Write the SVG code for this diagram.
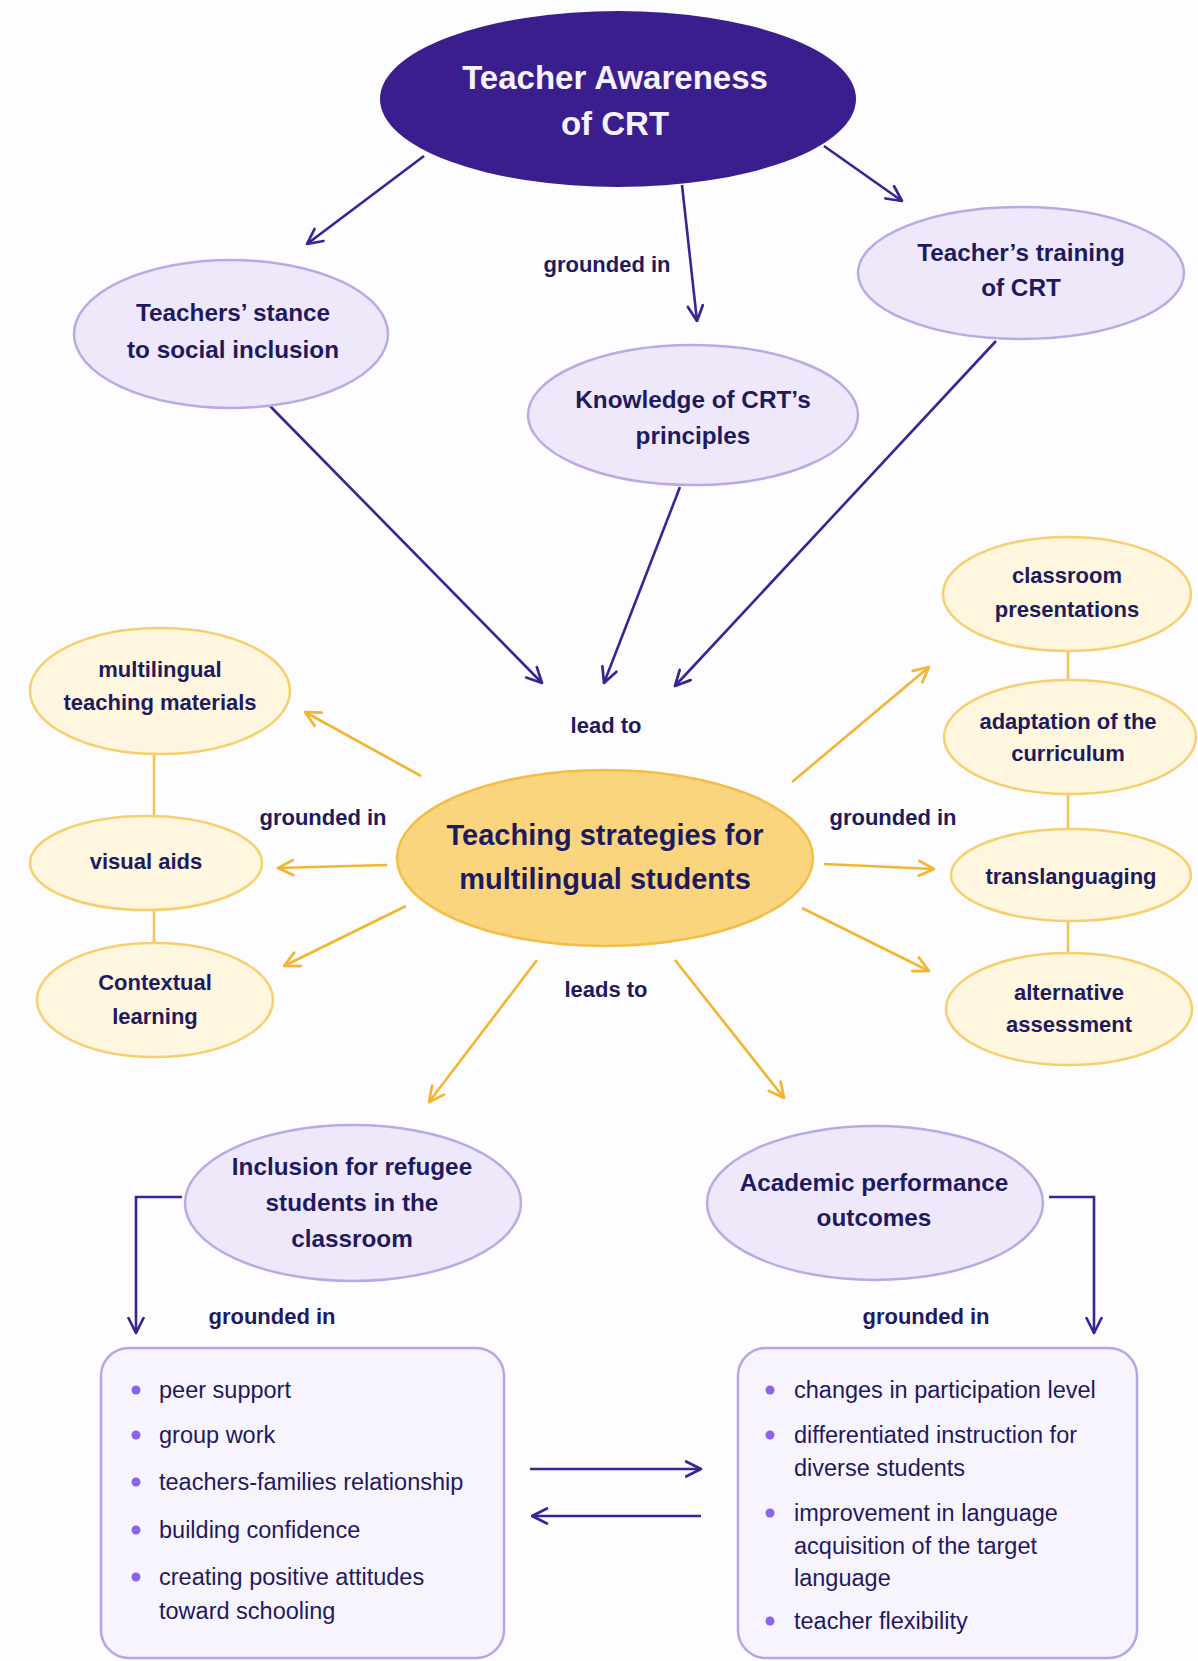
<svg xmlns="http://www.w3.org/2000/svg" width="1198" height="1661" viewBox="0 0 1198 1661">
<defs>
<style>
.bg{fill:#FDFCFE}
.dark{fill:#3B1E8E}
.lav{fill:#EFE7FA;stroke:#BCA9E4;stroke-width:2.5}
.yel{fill:#FEF6DE;stroke:#F6D06E;stroke-width:2.5}
.ctr{fill:#FAD57D;stroke:#F2BF45;stroke-width:2.5}
.box{fill:#F8F4FD;stroke:#B9A5E2;stroke-width:2.5}
.tb{font-family:"Liberation Sans",Arial,sans-serif;font-weight:bold;fill:#1E1A5E;text-anchor:middle}
.tw{font-family:"Liberation Sans",Arial,sans-serif;font-weight:bold;fill:#F6F2FC;text-anchor:middle;font-size:33px}
.np{font-size:24.3px}
.ny{font-size:22px}
.nc{font-size:29px}
.lbl{font-family:"Liberation Sans",Arial,sans-serif;font-weight:bold;fill:#1E1A5E;text-anchor:middle;font-size:22px}
.li{font-family:"Liberation Sans",Arial,sans-serif;fill:#1E1A5E;font-size:23.5px}
.dot{fill:#8A63E8}
.ep{stroke:#3A2492;stroke-width:2.6;fill:none}
.ey{stroke:#F2B530;stroke-width:2.6;fill:none}
.ly{stroke:#F3C453;stroke-width:2.6;fill:none}
</style>
<marker id="ap" viewBox="0 0 12 12" refX="11" refY="6" markerWidth="18" markerHeight="18" markerUnits="userSpaceOnUse" orient="auto">
<path d="M1,1 L11,6 L1,11" fill="none" stroke="#3A2492" stroke-width="1.8" stroke-linecap="round" stroke-linejoin="round"/>
</marker>
<marker id="ay" viewBox="0 0 12 12" refX="11" refY="6" markerWidth="18" markerHeight="18" markerUnits="userSpaceOnUse" orient="auto">
<path d="M1,1 L11,6 L1,11" fill="none" stroke="#F2B530" stroke-width="1.8" stroke-linecap="round" stroke-linejoin="round"/>
</marker>
</defs>
<rect class="bg" x="0" y="0" width="1198" height="1661"/>

<g id="connectors">
<line class="ep" x1="424" y1="156" x2="307" y2="244" marker-end="url(#ap)"/>
<line class="ep" x1="682" y1="185" x2="697" y2="321" marker-end="url(#ap)"/>
<line class="ep" x1="824" y1="146" x2="902" y2="201" marker-end="url(#ap)"/>
<line class="ep" x1="270" y1="406" x2="542" y2="683" marker-end="url(#ap)"/>
<line class="ep" x1="680" y1="487" x2="604" y2="683" marker-end="url(#ap)"/>
<line class="ep" x1="996" y1="341" x2="675" y2="686" marker-end="url(#ap)"/>
<line class="ey" x1="421" y1="776" x2="305" y2="712" marker-end="url(#ay)"/>
<line class="ey" x1="387" y1="865" x2="278" y2="868" marker-end="url(#ay)"/>
<line class="ey" x1="406" y1="906" x2="284" y2="966" marker-end="url(#ay)"/>
<line class="ey" x1="792" y1="782" x2="929" y2="667" marker-end="url(#ay)"/>
<line class="ey" x1="824" y1="864" x2="934" y2="869" marker-end="url(#ay)"/>
<line class="ey" x1="802" y1="908" x2="929" y2="971" marker-end="url(#ay)"/>
<line class="ey" x1="537" y1="960" x2="429" y2="1102" marker-end="url(#ay)"/>
<line class="ey" x1="675" y1="960" x2="784" y2="1098" marker-end="url(#ay)"/>
<line class="ly" x1="154" y1="754" x2="154" y2="816"/>
<line class="ly" x1="154" y1="911" x2="154" y2="942"/>
<line class="ly" x1="1068" y1="650" x2="1068" y2="680"/>
<line class="ly" x1="1068" y1="794" x2="1068" y2="829"/>
<line class="ly" x1="1068" y1="922" x2="1068" y2="953"/>
<polyline class="ep" points="182,1197 136,1197 136,1333" marker-end="url(#ap)"/>
<polyline class="ep" points="1049,1197 1094,1197 1094,1333" marker-end="url(#ap)"/>
<line class="ep" x1="530" y1="1469" x2="701" y2="1469" marker-end="url(#ap)"/>
<line class="ep" x1="701" y1="1516" x2="532" y2="1516" marker-end="url(#ap)"/>
<text class="lbl" x="607" y="272">grounded in</text>
<text class="lbl" x="606" y="733">lead to</text>
<text class="lbl" x="323" y="825">grounded in</text>
<text class="lbl" x="893" y="825">grounded in</text>
<text class="lbl" x="606" y="997">leads to</text>
<text class="lbl" x="272" y="1324">grounded in</text>
<text class="lbl" x="926" y="1324">grounded in</text>
</g>

<g id="n-awareness">
<ellipse class="dark" cx="618" cy="99" rx="238" ry="88"/>
<text class="tw" x="615" y="89">Teacher Awareness</text>
<text class="tw" x="615" y="135">of CRT</text>
</g>
<g id="n-stance">
<ellipse class="lav" cx="231" cy="334" rx="157" ry="74"/>
<text class="tb np" x="233" y="321">Teachers’ stance</text>
<text class="tb np" x="233" y="358">to social inclusion</text>
</g>
<g id="n-knowledge">
<ellipse class="lav" cx="693" cy="415" rx="165" ry="70"/>
<text class="tb np" x="693" y="408">Knowledge of CRT’s</text>
<text class="tb np" x="693" y="444">principles</text>
</g>
<g id="n-training">
<ellipse class="lav" cx="1021" cy="273" rx="163" ry="66"/>
<text class="tb np" x="1021" y="261">Teacher’s training</text>
<text class="tb np" x="1021" y="296">of CRT</text>
</g>
<g id="n-strategies">
<ellipse class="ctr" cx="605" cy="858" rx="208" ry="88"/>
<text class="tb nc" x="605" y="845">Teaching strategies for</text>
<text class="tb nc" x="605" y="889">multilingual students</text>
</g>
<g id="n-materials">
<ellipse class="yel" cx="160" cy="691" rx="130" ry="63"/>
<text class="tb ny" x="160" y="677">multilingual</text>
<text class="tb ny" x="160" y="710">teaching materials</text>
</g>
<g id="n-visual">
<ellipse class="yel" cx="146" cy="863" rx="116" ry="47"/>
<text class="tb ny" x="146" y="869">visual aids</text>
</g>
<g id="n-contextual">
<ellipse class="yel" cx="155" cy="1000" rx="118" ry="57"/>
<text class="tb ny" x="155" y="990">Contextual</text>
<text class="tb ny" x="155" y="1024">learning</text>
</g>
<g id="n-presentations">
<ellipse class="yel" cx="1067" cy="594" rx="124" ry="57"/>
<text class="tb ny" x="1067" y="583">classroom</text>
<text class="tb ny" x="1067" y="617">presentations</text>
</g>
<g id="n-curriculum">
<ellipse class="yel" cx="1070" cy="737" rx="126" ry="57"/>
<text class="tb ny" x="1068" y="729">adaptation of the</text>
<text class="tb ny" x="1068" y="761">curriculum</text>
</g>
<g id="n-translanguaging">
<ellipse class="yel" cx="1071" cy="875" rx="120" ry="46"/>
<text class="tb ny" x="1071" y="884">translanguaging</text>
</g>
<g id="n-assessment">
<ellipse class="yel" cx="1069" cy="1009" rx="123" ry="56"/>
<text class="tb ny" x="1069" y="1000">alternative</text>
<text class="tb ny" x="1069" y="1032">assessment</text>
</g>
<g id="n-inclusion">
<ellipse class="lav" cx="353" cy="1203" rx="168" ry="78"/>
<text class="tb np" x="352" y="1175">Inclusion for refugee</text>
<text class="tb np" x="352" y="1211">students in the</text>
<text class="tb np" x="352" y="1247">classroom</text>
</g>
<g id="n-academic">
<ellipse class="lav" cx="875" cy="1203" rx="168" ry="77"/>
<text class="tb np" x="874" y="1191">Academic performance</text>
<text class="tb np" x="874" y="1226">outcomes</text>
</g>
<g id="n-list-left">
<rect class="box" x="101" y="1348" width="403" height="310" rx="28"/>
<circle class="dot" cx="136" cy="1390" r="4.5"/>
<text class="li" x="159" y="1398">peer support</text>
<circle class="dot" cx="136" cy="1435" r="4.5"/>
<text class="li" x="159" y="1443">group work</text>
<circle class="dot" cx="136" cy="1482" r="4.5"/>
<text class="li" x="159" y="1490">teachers-families relationship</text>
<circle class="dot" cx="136" cy="1530" r="4.5"/>
<text class="li" x="159" y="1538">building confidence</text>
<circle class="dot" cx="136" cy="1577" r="4.5"/>
<text class="li" x="159" y="1585">creating positive attitudes</text>
<text class="li" x="159" y="1619">toward schooling</text>
</g>
<g id="n-list-right">
<rect class="box" x="738" y="1348" width="399" height="310" rx="28"/>
<circle class="dot" cx="770" cy="1390" r="4.5"/>
<text class="li" x="794" y="1398">changes in participation level</text>
<circle class="dot" cx="770" cy="1435" r="4.5"/>
<text class="li" x="794" y="1443">differentiated instruction for</text>
<text class="li" x="794" y="1476">diverse students</text>
<circle class="dot" cx="770" cy="1513" r="4.5"/>
<text class="li" x="794" y="1521">improvement in language</text>
<text class="li" x="794" y="1554">acquisition of the target</text>
<text class="li" x="794" y="1586">language</text>
<circle class="dot" cx="770" cy="1621" r="4.5"/>
<text class="li" x="794" y="1629">teacher flexibility</text>
</g>
</svg>
